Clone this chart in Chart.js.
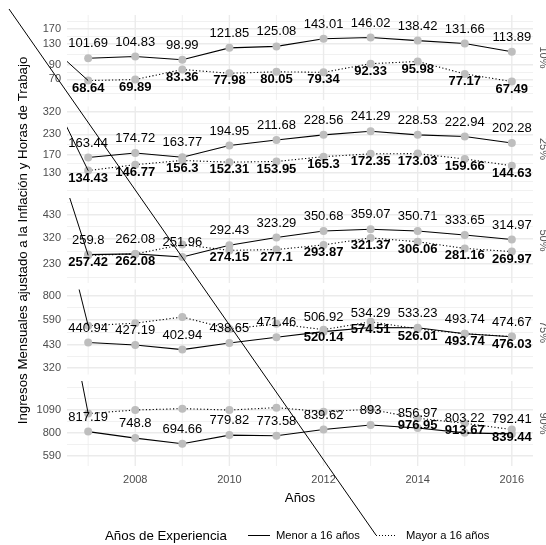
<!DOCTYPE html>
<html>
<head>
<meta charset="utf-8">
<script src="https://cdn.jsdelivr.net/npm/chart.js@4.4.1/dist/chart.umd.min.js"></script>
<style>
  html, body { margin: 0; padding: 0; background: #fff; }
  #wrap { position: relative; width: 546px; height: 545px; overflow: hidden; }
  #chart { position: absolute; left: 0; top: 0; }
  #legend {
    position: absolute; left: 105px; top: 526px; height: 18px;
    display: flex; align-items: center; white-space: nowrap;
    font-family: "Liberation Sans", Arial, Helvetica, sans-serif; color: #000;
  }
  #legend .title { font-size: 13.3px; }
  #legend .txt { font-size: 11.2px; }
  #legend .key { height: 1px; }
  #keyMenor { width: 22px; margin-left: 21px; margin-right: 6px; background: #000; }
  #keyMayor { width: 20px; margin-left: 16px; margin-right: 10px;
    background: repeating-linear-gradient(to right, #000 0 1px, transparent 1px 3px); }
</style>
</head>
<body>
<div id="wrap">
  <canvas id="chart" width="546" height="545"></canvas>
  <div id="legend">
    <span class="title">Años de Experiencia</span>
    <span class="key" id="keyMenor"></span>
    <span class="txt">Menor a 16 años</span>
    <span class="key" id="keyMayor"></span>
    <span class="txt">Mayor a 16 años</span>
  </div>
</div>
<script>
// Ingresos mensuales por percentil, 2007-2016

const years = [2007, 2008, 2009, 2010, 2011, 2012, 2013, 2014, 2015, 2016];
const panelNames = ['10%', '25%', '50%', '75%', '90%'];

const menor10 = [101.69, 104.83, 98.99, 121.85, 125.08, 143.01, 146.02, 138.42, 131.66, 113.89];
const mayor10 = [68.64, 69.89, 83.36, 77.98, 80.05, 79.34, 92.33, 95.98, 77.17, 67.49];
const menor25 = [163.44, 174.72, 163.77, 194.95, 211.68, 228.56, 241.29, 228.53, 222.94, 202.28];
const mayor25 = [134.43, 146.77, 156.3, 152.31, 153.95, 165.3, 172.35, 173.03, 159.66, 144.63];
const menor50 = [259.8, 262.08, 251.96, 292.43, 323.29, 350.68, 359.07, 350.71, 333.65, 314.97];
const mayor50 = [257.42, 262.08, 295, 274.15, 277.1, 293.87, 321.37, 306.06, 281.16, 269.97];
const menor75 = [440.94, 427.19, 402.94, 438.65, 471.46, 506.92, 534.29, 533.23, 493.74, 474.67];
const mayor75 = [547, 565, 611, 524, 560, 520.14, 574.51, 526.01, 493.74, 476.03];
const menor90 = [817.19, 748.8, 694.66, 779.82, 773.58, 839.62, 893, 856.97, 803.22, 792.41];
const mayor90 = [1040, 1090, 1110, 1090, 1125, 1066, 1100, 976.95, 913.67, 839.44];

// etiquetas en negrita que no se ven (solapadas)
const hidden10 = [];
const hidden25 = [];
const hidden50 = [2009];
const hidden75 = [2007, 2008, 2009, 2010, 2011];
const hidden90 = [2007, 2008, 2009, 2010, 2011, 2012, 2013];

// marcas del eje y de cada panel
const ticks10 = [70, 90, 130, 170];
const ticks25 = [130, 170, 230, 320];
const ticks50 = [230, 320, 430];
const ticks75 = [320, 430, 590, 800];
const ticks90 = [590, 800, 1090];

const xTicks = [2008, 2010, 2012, 2014, 2016];

const FONT = '"Liberation Sans", Arial, Helvetica, sans-serif';
Chart.defaults.font.family = FONT;

const panels = [
    { name: panelNames[0], menor: menor10, mayor: mayor10, hidden: hidden10, ticks: ticks10, min: 48.8, max: 217 },
    { name: panelNames[1], menor: menor25, mayor: mayor25, hidden: hidden25, ticks: ticks25, min: 98.6, max: 348 },
    { name: panelNames[2], menor: menor50, mayor: mayor50, hidden: hidden50, ticks: ticks50, min: 181, max: 534 },
    { name: panelNames[3], menor: menor75, mayor: mayor75, hidden: hidden75, ticks: ticks75, min: 293, max: 869 },
    { name: panelNames[4], menor: menor90, mayor: mayor90, hidden: hidden90, ticks: ticks90, min: 516, max: 1606 }
];

const PANEL_H = 85;
const GAP_H = 6.5;
const AXIS_W = 67;

/**
 * Marcas mayores + menores (como ggplot en escala log)
 */
function panelTicks(major, min, max) {
    const lg = major.map(Math.log10);
    const bd = lg[1] - lg[0];
    const b = lg.slice();
    if (Math.log10(min) < b[0]) b.unshift(b[0] - bd);
    if (Math.log10(max) > b[b.length - 1]) b.push(b[b.length - 1] + bd);
    const out = major.map(v => ({ value: v, minor: false }));
    for (let i = 0; i < b.length - 1; i++) {
        out.push({ value: Math.pow(10, (b[i] + b[i + 1]) / 2), minor: true });
    }
    if (b[0] < lg[0]) out.push({ value: Math.pow(10, b[0]), minor: true });
    if (b[b.length - 1] > lg[lg.length - 1]) out.push({ value: Math.pow(10, b[b.length - 1]), minor: true });
    return out.filter(t => t.value >= min && t.value <= max).sort((a, c) => a.value - c.value);
}

function toPoints(vals) {
    return years.map((yr, i) => ({ x: yr, y: vals[i] }));
}

const datasets = [];
const scales = {
    x: {
        type: 'linear',
        position: 'bottom',
        min: 2006.55,
        max: 2016.45,
        afterBuildTicks: s => { s.ticks = years.map(v => ({ value: v })); },
        afterFit: s => { s.height = 43; },
        grid: { display: false, drawTicks: false },
        border: { display: false },
        ticks: {
            autoSkip: false,
            maxRotation: 0,
            padding: 7,
            color: '#4d4d4d',
            font: { size: 11 },
            callback: v => xTicks.includes(v) ? String(v) : ''
        },
        title: {
            display: true,
            text: 'Años',
            color: '#000',
            font: { size: 13.3 },
            padding: { top: 4, bottom: 3 }
        }
    }
};

panels.forEach((p, i) => {
    const id = 'y' + i;
    datasets.push({
        label: 'Menor a 16 años',
        data: toPoints(p.menor),
        yAxisID: id,
        borderColor: '#000',
        borderWidth: 1.1,
        pointRadius: 4,
        pointBackgroundColor: '#bebebe',
        pointBorderWidth: 0,
        tension: 0
    });
    datasets.push({
        label: 'Mayor a 16 años',
        data: toPoints(p.mayor),
        yAxisID: id,
        borderColor: '#000',
        borderWidth: 1.1,
        borderDash: [1.2, 2.2],
        pointRadius: 4,
        pointBackgroundColor: '#bebebe',
        pointBorderWidth: 0,
        tension: 0
    });
    const tickList = panelTicks(p.ticks, p.min, p.max);
    scales[id] = {
        type: 'logarithmic',
        position: 'left',
        stack: 'panels',
        stackWeight: PANEL_H,
        weight: 20 - 2 * i,
        min: p.min,
        max: p.max,
        afterBuildTicks: s => { s.ticks = tickList.map(t => ({ value: t.value, minor: t.minor })); },
        afterFit: s => { s.width = AXIS_W; },
        border: { display: false },
        grid: {
            drawTicks: false,
            color: '#ebebeb',
            lineWidth: c => (c.tick && c.tick.minor) ? 0.7 : 1.4
        },
        ticks: {
            autoSkip: false,
            padding: 6,
            color: '#4d4d4d',
            font: { size: 11 },
            callback: (v, idx, arr) => arr[idx].minor ? '' : String(v)
        }
    };
    if (i < panels.length - 1) {
        scales['g' + i] = {
            type: 'linear',
            position: 'left',
            stack: 'panels',
            stackWeight: GAP_H,
            weight: 19 - 2 * i,
            afterFit: s => { s.width = AXIS_W; },
            border: { display: false },
            grid: { display: false },
            ticks: { display: false }
        };
    }
});

function panelScales(chart) {
    return panels.map((p, i) => chart.scales['y' + i]);
}

// rejilla vertical dentro de cada panel
const panelGrid = {
    id: 'panelGrid',
    beforeDatasetsDraw(chart) {
        const ctx = chart.ctx;
        const xs = chart.scales.x;
        ctx.save();
        ctx.strokeStyle = '#ebebeb';
        panelScales(chart).forEach(s => {
            years.forEach(yr => {
                const x = xs.getPixelForValue(yr);
                ctx.lineWidth = xTicks.includes(yr) ? 1.4 : 0.7;
                ctx.beginPath();
                ctx.moveTo(x, s.top);
                ctx.lineTo(x, s.bottom);
                ctx.stroke();
            });
        });
        ctx.restore();
    }
};

// etiquetas de valores
const valueLabels = {
    id: 'valueLabels',
    afterDatasetsDraw(chart) {
        const ctx = chart.ctx;
        ctx.save();
        ctx.fillStyle = '#000';
        ctx.textAlign = 'center';
        ctx.textBaseline = 'middle';
        panels.forEach((p, i) => {
            const mMenor = chart.getDatasetMeta(2 * i).data;
            const mMayor = chart.getDatasetMeta(2 * i + 1).data;
            ctx.font = '13px ' + FONT;
            mMenor.forEach((pt, j) => {
                ctx.fillText(String(p.menor[j]), pt.x, pt.y - 14.5);
            });
            ctx.font = 'bold 13px ' + FONT;
            mMayor.forEach((pt, j) => {
                if (p.hidden.includes(years[j])) return;
                ctx.fillText(String(p.mayor[j]), pt.x, pt.y + 7.5);
            });
        });
        ctx.restore();
    }
};

// titulo y, etiquetas de panel y lineas sueltas
const decorations = {
    id: 'decorations',
    afterDraw(chart) {
        const ctx = chart.ctx;
        const area = chart.chartArea;
        const origin = { x: 9, y: 9 };
        ctx.save();

        ctx.fillStyle = '#000';
        ctx.font = '13.3px ' + FONT;
        ctx.textAlign = 'center';
        ctx.textBaseline = 'middle';
        ctx.save();
        ctx.translate(23, (area.top + area.bottom) / 2);
        ctx.rotate(-Math.PI / 2);
        ctx.fillText('Ingresos Mensuales ajustado a la Inflación y Horas de Trabajo', 0, 0);
        ctx.restore();

        ctx.fillStyle = '#555';
        ctx.font = '11px ' + FONT;
        panelScales(chart).forEach((s, i) => {
            ctx.save();
            ctx.translate(area.right + 10, (s.top + s.bottom) / 2);
            ctx.rotate(Math.PI / 2);
            ctx.fillText(panels[i].name, 0, 0);
            ctx.restore();
        });

        ctx.strokeStyle = '#000';
        ctx.lineWidth = 1;
        panelScales(chart).forEach((s, i) => {
            const first = chart.getDatasetMeta(2 * i + 1).data[0];
            ctx.save();
            ctx.beginPath();
            ctx.rect(area.left, s.top, area.right - area.left, s.bottom - s.top);
            ctx.clip();
            ctx.beginPath();
            ctx.moveTo(origin.x, origin.y);
            ctx.lineTo(first.x, first.y);
            ctx.stroke();
            ctx.restore();
        });

        const key = document.getElementById('keyMayor').getBoundingClientRect();
        const cv = chart.canvas.getBoundingClientRect();
        ctx.beginPath();
        ctx.moveTo(origin.x, origin.y);
        ctx.lineTo(key.left - cv.left, key.top + key.height / 2 - cv.top);
        ctx.stroke();
        ctx.restore();
    }
};

new Chart(document.getElementById('chart'), {
    type: 'line',
    data: { datasets: datasets },
    options: {
        responsive: false,
        animation: false,
        devicePixelRatio: 1,
        layout: { padding: { top: 15, left: 0, right: 13, bottom: 36 } },
        plugins: {
            legend: { display: false },
            tooltip: { enabled: false }
        },
        scales: scales
    },
    plugins: [panelGrid, valueLabels, decorations]
});
</script>
</body>
</html>
